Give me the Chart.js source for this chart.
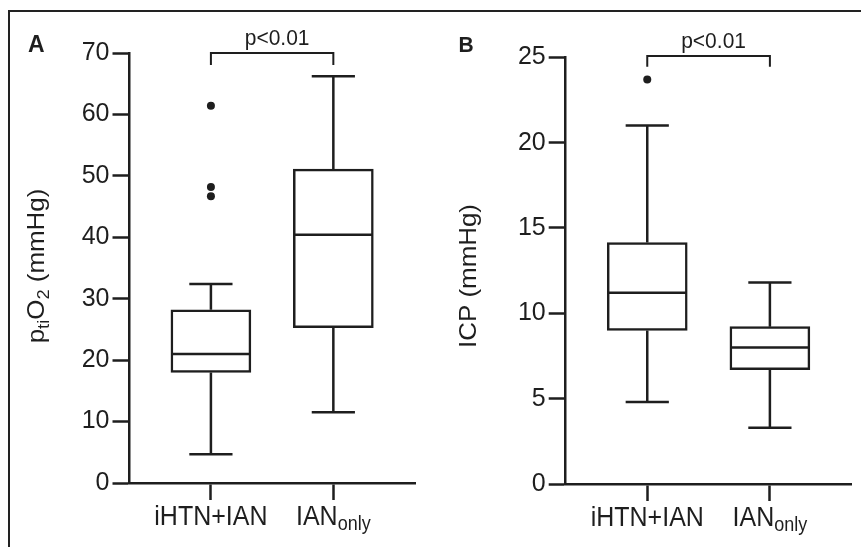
<!DOCTYPE html>
<html><head><meta charset="utf-8">
<script src="https://cdn.jsdelivr.net/npm/chart.js@4.4.0/dist/chart.umd.min.js"></script>
<style>
html,body{margin:0;padding:0;background:#fff;}
body{width:861px;height:547px;position:relative;overflow:hidden;}
#frame{position:absolute;left:8px;top:10px;width:900px;height:600px;border-top:2px solid #222;border-left:2px solid #222;}
canvas{position:absolute;top:0;}
#ca{left:0;}
#cb{left:430px;}
</style></head><body>
<div id="frame"></div>
<canvas id="ca" width="430" height="547"></canvas>
<canvas id="cb" width="431" height="547"></canvas>
<script>
// ---- data ----
const categories = ['iHTN+IAN', 'IAN'];
const categorySubscripts = ['', 'only'];
const pValueLabel = 'p<0.01';

// Panel A: ptiO2 (mmHg)
const ptiO2Min = [4.7, 11.5];
const ptiO2Q1 = [18.0, 25.3];
const ptiO2Median = [21.0, 40.4];
const ptiO2Q3 = [28.2, 51.1];
const ptiO2Max = [32.4, 66.2];
const ptiO2Outliers = [[61.4, 48.2, 46.7], []];
const ptiO2Ticks = [0, 10, 20, 30, 40, 50, 60, 70];
const ptiO2Bracket = [70, 68.05];
const ptiO2Title = [['p', 0], ['ti', 1], ['O', 0], ['2', 1], [' (mmHg)', 0]];

// Panel B: ICP (mmHg)
const icpMin = [4.8, 3.3];
const icpQ1 = [9.0, 6.7];
const icpMedian = [11.2, 8.0];
const icpQ3 = [14.15, 9.22];
const icpMax = [21.0, 11.8];
const icpOutliers = [[23.7], []];
const icpTicks = [0, 5, 10, 15, 20, 25];
const icpBracket = [25.08, 24.45];
const icpTitle = [['ICP (mmHg)', 0]];

// ---- drawing ----
const INK = '#1e1e1e';
const FAM = "'Liberation Sans', Arial, Helvetica, sans-serif";
const POS = [1, 2];
const VS = 1.08; // vertical stretch of lettering in the source figure

function build(id, d, L) {
  const outlierPts = [];
  d.outliers.forEach((arr, i) => arr.forEach(v => outlierPts.push({x: POS[i], y: v})));
  const boxData = POS.map((p, i) => ({x: p, y: [d.q1[i], d.q3[i]]}));

  function stretchedText(ctx, txt, x, y) {
    ctx.save();
    ctx.translate(x, y);
    ctx.scale(1, VS);
    ctx.fillText(txt, 0, 0);
    ctx.restore();
  }

  const extras = {
    id: 'boxExtras',
    afterDatasetsDraw(chart) {
      const ctx = chart.ctx, ys = chart.scales.y, xs = chart.scales.x;
      const meta = chart.getDatasetMeta(0);
      ctx.save();
      ctx.strokeStyle = INK; ctx.lineWidth = 2.5; ctx.lineCap = 'butt';
      meta.data.forEach((bar, i) => {
        const cx = xs.getPixelForValue(POS[i]);
        const half = bar.width / 2;
        const cap = half * 0.54;
        const yMin = ys.getPixelForValue(d.min[i]);
        const yQ1 = ys.getPixelForValue(d.q1[i]);
        const yMed = ys.getPixelForValue(d.median[i]);
        const yQ3 = ys.getPixelForValue(d.q3[i]);
        const yMax = ys.getPixelForValue(d.max[i]);
        ctx.beginPath();
        ctx.moveTo(cx, yQ3); ctx.lineTo(cx, yMax);
        ctx.moveTo(cx - cap, yMax); ctx.lineTo(cx + cap, yMax);
        ctx.moveTo(cx, yQ1); ctx.lineTo(cx, yMin);
        ctx.moveTo(cx - cap, yMin); ctx.lineTo(cx + cap, yMin);
        ctx.moveTo(cx - half + 1, yMed); ctx.lineTo(cx + half - 1, yMed);
        ctx.stroke();
      });
      ctx.restore();
    },
    afterDraw(chart) {
      const ctx = chart.ctx, ys = chart.scales.y, xs = chart.scales.x;
      ctx.save();
      ctx.fillStyle = INK; ctx.strokeStyle = INK;
      ctx.textBaseline = 'alphabetic';
      // category labels
      const base = xs.top + 42;
      categories.forEach((c, i) => {
        const cx = xs.getPixelForValue(POS[i]);
        ctx.font = '25px ' + FAM;
        const w1 = ctx.measureText(c).width;
        ctx.font = '18px ' + FAM;
        const w2 = categorySubscripts[i] ? ctx.measureText(categorySubscripts[i]).width : 0;
        const x0 = cx - (w1 + w2) / 2;
        ctx.textAlign = 'left';
        ctx.font = '25px ' + FAM;
        stretchedText(ctx, c, x0, base);
        if (categorySubscripts[i]) {
          ctx.font = '18px ' + FAM;
          stretchedText(ctx, categorySubscripts[i], x0 + w1, base + 4.5);
        }
      });
      // significance bracket
      const xL = xs.getPixelForValue(POS[0]), xR = xs.getPixelForValue(POS[1]);
      const yb = ys.getPixelForValue(d.bracket[0]), yl = ys.getPixelForValue(d.bracket[1]);
      ctx.lineWidth = 2;
      ctx.beginPath();
      ctx.moveTo(xL, yl); ctx.lineTo(xL, yb); ctx.lineTo(xR, yb); ctx.lineTo(xR, yl);
      ctx.stroke();
      ctx.font = '21px ' + FAM; ctx.textAlign = 'center';
      stretchedText(ctx, pValueLabel, (xL + xR) / 2 + 5, yb - 8);
      // panel letter
      ctx.font = 'bold ' + L.letterSize + 'px ' + FAM; ctx.textAlign = 'left';
      stretchedText(ctx, L.letter, L.letterX, 52);
      // y-axis title (rotated, with subscripts)
      ctx.translate(L.titleX, L.titleY);
      ctx.rotate(-Math.PI / 2);
      ctx.scale(VS, 1);
      let total = 0;
      const widths = d.title.map(([t, sub]) => {
        ctx.font = (sub ? '17px ' : '24px ') + FAM;
        const w = ctx.measureText(t).width; total += w; return w;
      });
      let x = -total / 2;
      d.title.forEach(([t, sub], i) => {
        ctx.font = (sub ? '17px ' : '24px ') + FAM;
        ctx.textAlign = 'left';
        ctx.fillText(t, x, sub ? 5 : 0);
        x += widths[i];
      });
      ctx.restore();
    }
  };

  return new Chart(document.getElementById(id), {
    type: 'bar',
    data: {
      datasets: [
        {
          type: 'bar', data: boxData,
          backgroundColor: '#ffffff', borderColor: INK, borderWidth: 2.5,
          borderSkipped: false, barThickness: 80
        },
        {
          type: 'scatter', data: outlierPts,
          pointRadius: 4, pointBackgroundColor: INK, pointBorderWidth: 0, showLine: false
        }
      ]
    },
    options: {
      responsive: false, animation: false, events: [],
      layout: {padding: {left: 0, top: L.top, right: L.right, bottom: 0}},
      plugins: {legend: {display: false}, tooltip: {enabled: false}},
      scales: {
        x: {
          type: 'linear', min: 0.335, max: 2.667, offset: false,
          afterBuildTicks(s) { s.ticks = POS.map(v => ({value: v})); },
          afterFit(s) { s.height = L.xh; },
          grid: {display: true, offset: false, drawOnChartArea: false, drawTicks: true,
                 tickLength: 17, tickWidth: 2.5, tickColor: INK},
          border: {display: true, color: INK, width: 2.5},
          ticks: {callback: () => '', font: {size: 10}}
        },
        y: {
          min: 0, max: d.ticks[d.ticks.length - 1],
          afterBuildTicks(s) { s.ticks = d.ticks.map(v => ({value: v})); },
          afterFit(s) { s.width = L.yw; },
          grid: {display: true, drawOnChartArea: false, drawTicks: true,
                 tickLength: 17, tickWidth: 2.5, tickColor: INK},
          border: {display: true, color: INK, width: 2.5},
          ticks: {color: INK, padding: 3, font: {family: FAM, size: 25}}
        }
      }
    },
    plugins: [extras]
  });
}

build('ca', {
  min: ptiO2Min, q1: ptiO2Q1, median: ptiO2Median, q3: ptiO2Q3, max: ptiO2Max,
  outliers: ptiO2Outliers, ticks: ptiO2Ticks, bracket: ptiO2Bracket, title: ptiO2Title
}, {top: 53, right: 15, yw: 129.5, xh: 64, letter: 'A', letterX: 28, letterSize: 23, titleX: 44, titleY: 266});

build('cb', {
  min: icpMin, q1: icpQ1, median: icpMedian, q3: icpQ3, max: icpMax,
  outliers: icpOutliers, ticks: icpTicks, bracket: icpBracket, title: icpTitle
}, {top: 57.3, right: 9.3, yw: 135.7, xh: 63, letter: 'B', letterX: 28.5, letterSize: 21, titleX: 45.7, titleY: 276});
</script>
</body></html>
